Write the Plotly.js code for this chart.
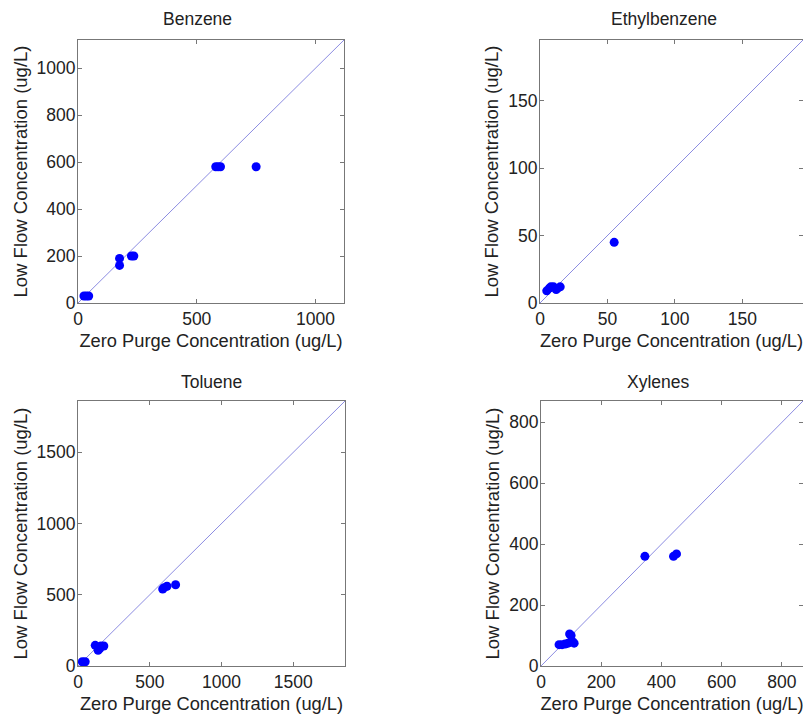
<!DOCTYPE html>
<html>
<head>
<meta charset="utf-8">
<script src="https://cdn.plot.ly/plotly-3.0.1.min.js"></script>
<style>html,body{margin:0;padding:0;background:#fff;}#chart{width:803px;height:717px;}</style>
</head>
<body>
<div id="chart"></div>
<script>
// ---- data (ug/L) ----
const benzeneZero = [25, 35, 45, 175, 175, 225, 235, 580, 590, 600, 750];
const benzeneLow  = [30, 30, 30, 190, 160, 200, 200, 580, 580, 580, 580];

const ethylZero = [5, 7, 8, 10, 12, 13, 15, 55];
const ethylLow  = [9, 11, 12, 12, 10, 11, 12, 45];

const tolueneZero = [30, 50, 120, 140, 150, 160, 180, 590, 600, 620, 680];
const tolueneLow  = [30, 30, 145, 110, 120, 140, 140, 540, 550, 560, 570];

const xyleneZero = [60, 70, 80, 90, 95, 100, 105, 110, 345, 440, 450];
const xyleneLow  = [70, 70, 72, 75, 105, 100, 80, 75, 360, 360, 368];

const titles = ["Benzene", "Ethylbenzene", "Toluene", "Xylenes"];
const axisMax = [1120, 195, 1860, 870];
const tickSets = [
  {x: [0, 500, 1000], y: [0, 200, 400, 600, 800, 1000]},
  {x: [0, 50, 100, 150], y: [0, 50, 100, 150]},
  {x: [0, 500, 1000, 1500], y: [0, 500, 1000, 1500]},
  {x: [0, 200, 400, 600, 800], y: [0, 200, 400, 600, 800]}
];
const xLabel = "Zero Purge Concentration (ug/L)";
const yLabel = "Low Flow Concentration (ug/L)";

const series = [
  [benzeneZero, benzeneLow],
  [ethylZero, ethylLow],
  [tolueneZero, tolueneLow],
  [xyleneZero, xyleneLow]
];

const W = 803, H = 717;
// plot boxes in pixels [left, right, top, bottom]
const boxes = [
  [78, 344, 40, 303],
  [540, 803, 40, 303],
  [78, 345, 401, 666],
  [541, 803, 401, 666]
];
const titlePos = [[197, 19], [664, 19], [211, 382], [658, 382]];

const font = "Liberation Sans, Arial, sans-serif";
const textColor = "#222";
const traces = [];
const layout = {
  width: W, height: H,
  margin: {l: 0, r: 0, t: 0, b: 0},
  paper_bgcolor: "#fff", plot_bgcolor: "#fff",
  showlegend: false,
  font: {family: font, size: 17, color: textColor},
  annotations: []
};

series.forEach((s, i) => {
  const n = i + 1;
  const xa = "x" + (n === 1 ? "" : n), ya = "y" + (n === 1 ? "" : n);
  const m = axisMax[i];
  traces.push({
    x: [0, m], y: [0, m], xaxis: xa, yaxis: ya, mode: "lines",
    line: {color: "rgb(140,140,225)", width: 1}, hoverinfo: "skip"
  });
  traces.push({
    x: s[0], y: s[1], xaxis: xa, yaxis: ya, mode: "markers",
    marker: {color: "#0000ff", size: 9}
  });
  const b = boxes[i];
  const axCommon = {
    range: [0, m], showgrid: false, zeroline: false,
    showline: true, linecolor: "#777", linewidth: 1, mirror: "ticks",
    ticks: "inside", ticklen: 4, tickcolor: "#777",
    tickfont: {family: font, size: 17.5, color: textColor}
  };
  layout["xaxis" + (n === 1 ? "" : n)] = Object.assign({}, axCommon, {
    domain: [b[0] / W, b[1] / W],
    anchor: ya,
    tickvals: tickSets[i].x,
    title: {text: xLabel, font: {family: font, size: 18.3, color: textColor}, standoff: 6}
  });
  layout["yaxis" + (n === 1 ? "" : n)] = Object.assign({}, axCommon, {
    domain: [1 - b[3] / H, 1 - b[2] / H],
    anchor: xa,
    tickvals: tickSets[i].y,
    ticklabelstandoff: -2,
    title: {text: yLabel, font: {family: font, size: 18.5, color: textColor}, standoff: 4}
  });
  layout.annotations.push({
    text: titles[i], xref: "paper", yref: "paper",
    x: titlePos[i][0] / W, y: 1 - titlePos[i][1] / H,
    xanchor: "center", yanchor: "middle", showarrow: false,
    font: {family: font, size: 17.5, color: textColor}
  });
});

Plotly.newPlot("chart", traces, layout, {displayModeBar: false, staticPlot: true});
</script>
</body>
</html>
